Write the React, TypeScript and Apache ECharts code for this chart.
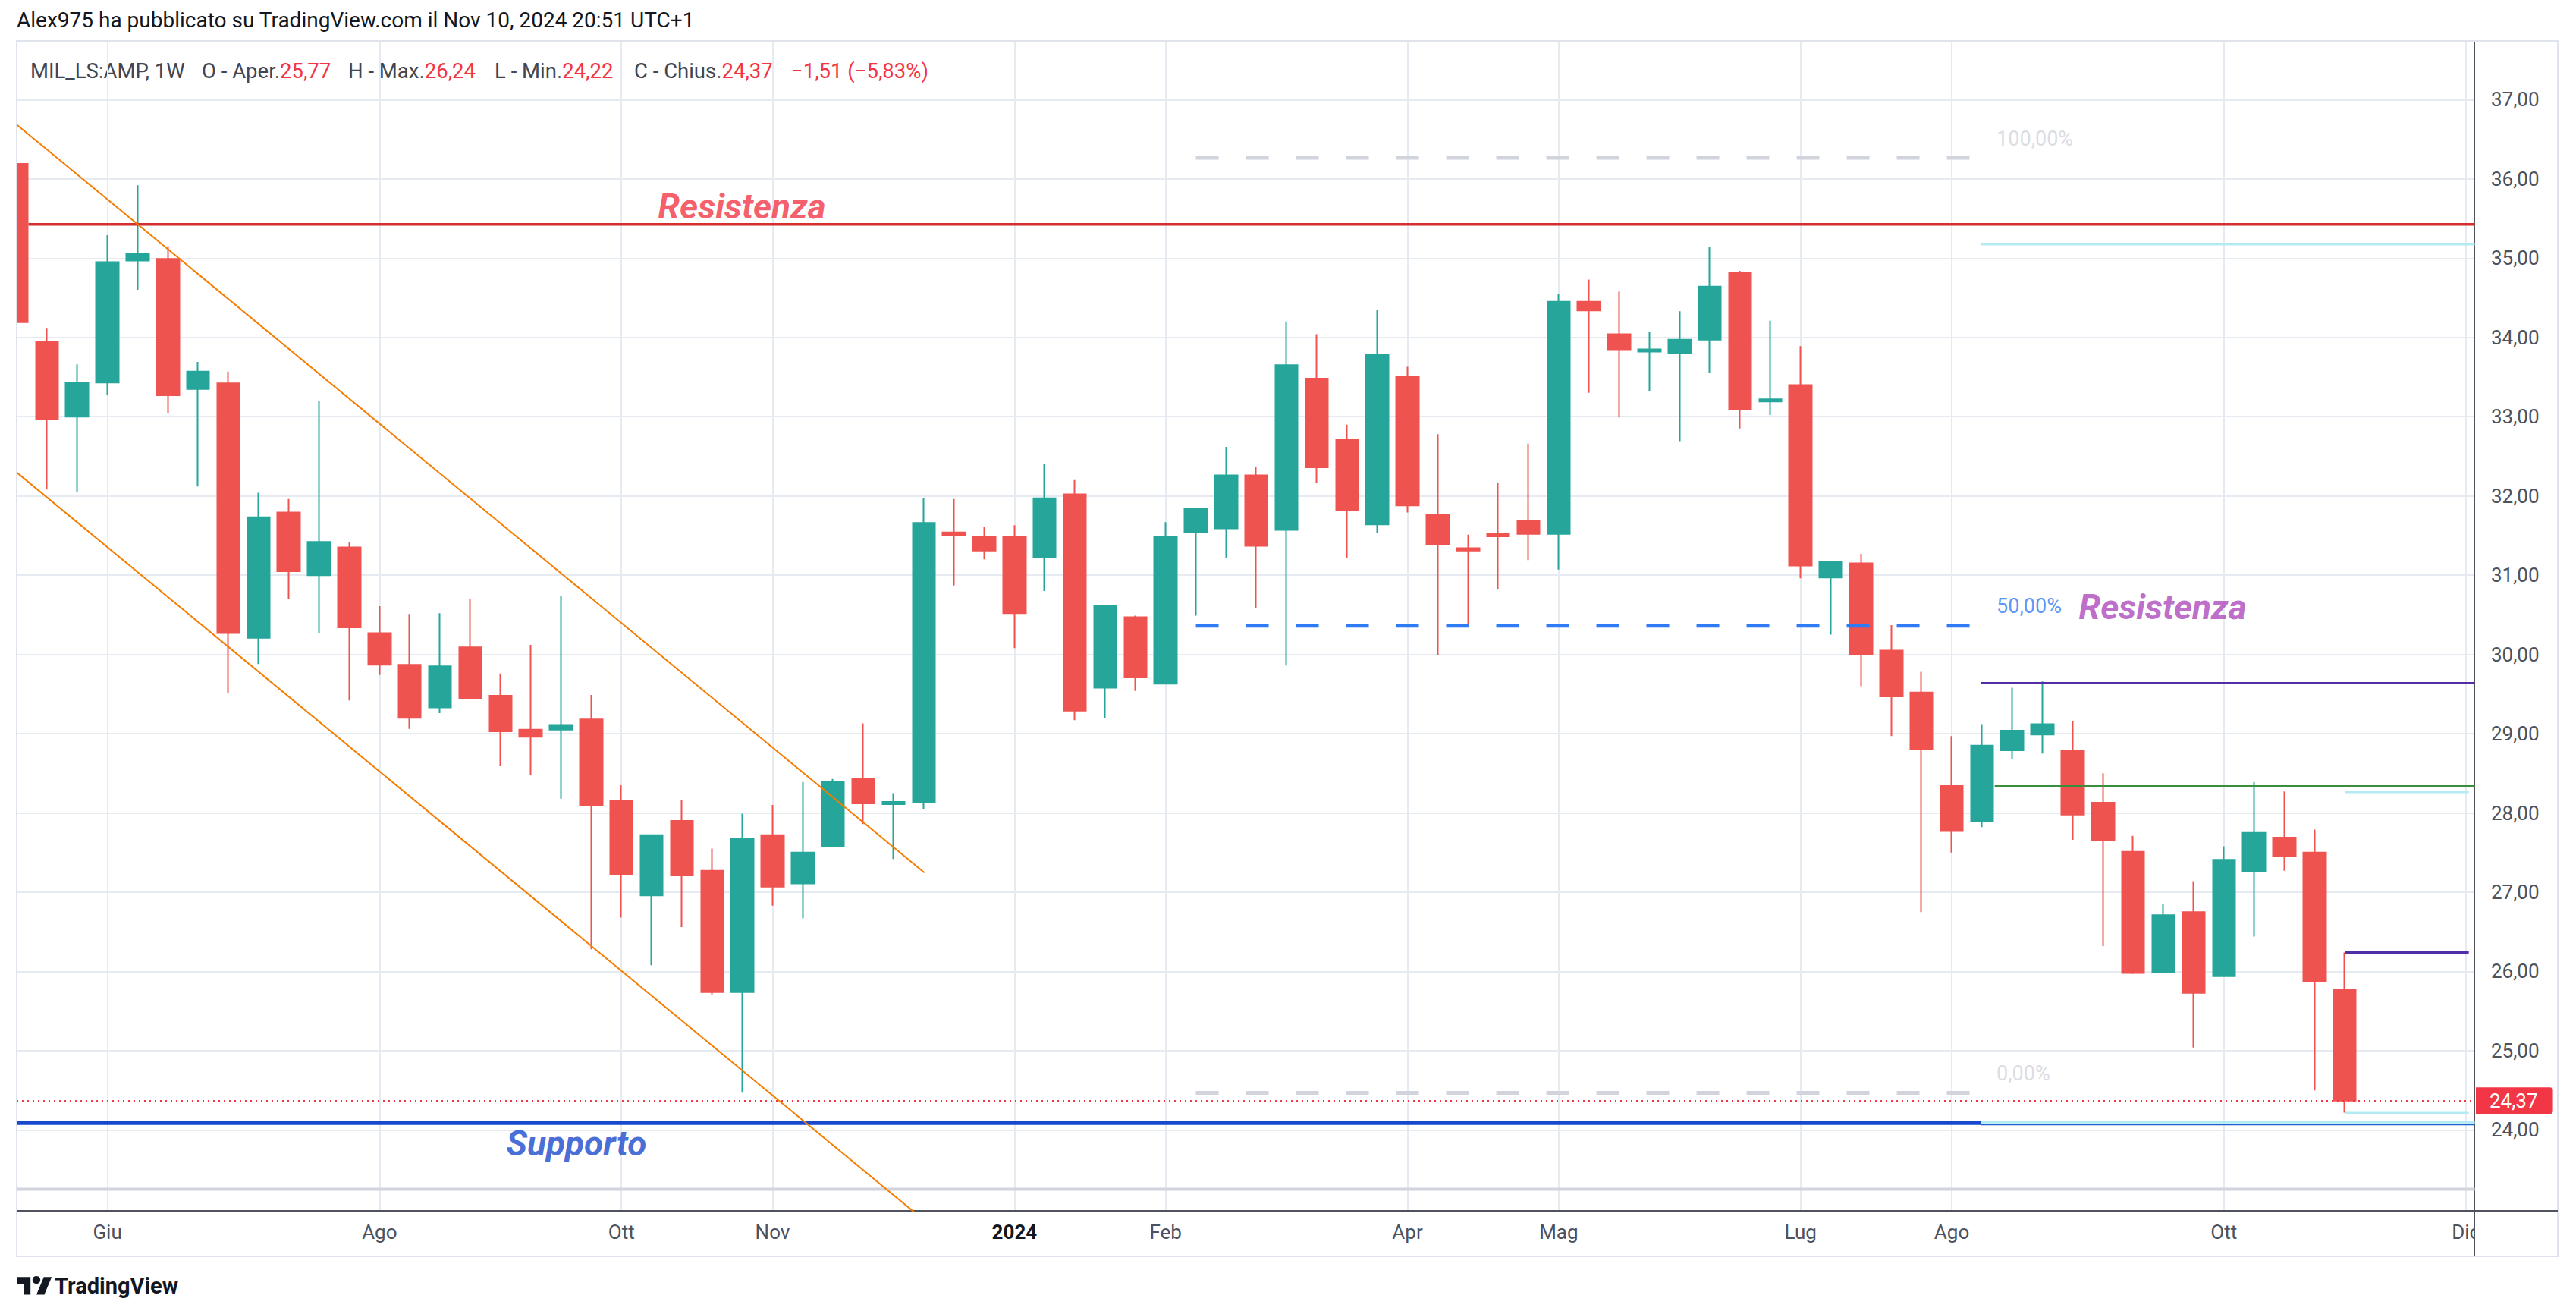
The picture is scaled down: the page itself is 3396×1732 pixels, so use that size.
import React, { useEffect, useRef } from 'react';
import * as echarts from 'echarts';

// Weekly candles: index 0 = week of 15 May 2023 ... index 77 = week of 4 Nov 2024
const opens = [36.19, 33.95, 33.0, 33.43, 34.97, 34.99, 33.35, 33.42, 30.21, 31.79, 31.0, 31.35, 30.27, 29.87, 29.33, 30.09, 29.48, 29.05, 29.05, 29.18, 28.15, 26.96, 27.9, 27.27, 25.74, 27.72, 27.11, 27.58, 28.43, 28.11, 28.14, 31.54, 31.48, 31.49, 31.23, 32.02, 29.58, 30.47, 29.63, 31.54, 31.59, 32.26, 31.57, 33.48, 32.71, 31.64, 33.5, 31.76, 31.34, 31.52, 31.68, 31.52, 34.45, 34.04, 33.82, 33.8, 33.97, 34.81, 33.19, 33.4, 30.97, 31.15, 30.05, 29.52, 28.34, 27.9, 28.79, 28.99, 28.78, 28.13, 27.51, 25.99, 26.75, 25.94, 27.26, 27.69, 27.5, 25.77];
const closes = [34.19, 32.97, 33.43, 34.95, 35.06, 33.27, 33.57, 30.27, 31.73, 31.05, 31.42, 30.34, 29.87, 29.2, 29.85, 29.45, 29.03, 28.96, 29.11, 28.1, 27.23, 27.72, 27.21, 25.74, 27.67, 27.07, 27.5, 28.39, 28.12, 28.14, 31.66, 31.5, 31.31, 30.52, 31.97, 29.29, 30.61, 29.71, 31.48, 31.84, 32.26, 31.37, 33.65, 32.36, 31.82, 33.78, 31.88, 31.39, 31.31, 31.49, 31.52, 34.45, 34.34, 33.85, 33.85, 33.97, 34.64, 33.09, 33.22, 31.12, 31.17, 30.0, 29.47, 28.81, 27.77, 28.85, 29.04, 29.12, 27.98, 27.66, 25.98, 26.71, 25.73, 27.41, 27.75, 27.45, 25.88, 24.37];
const lows = [34.15, 32.08, 32.05, 33.27, 34.6, 33.04, 32.12, 29.51, 29.88, 30.7, 30.27, 29.42, 29.74, 29.06, 29.26, 29.44, 28.59, 28.48, 28.18, 26.28, 26.68, 26.08, 26.56, 25.71, 24.47, 26.83, 26.67, 27.58, 27.86, 27.42, 28.05, 30.87, 31.2, 30.08, 30.8, 29.17, 29.2, 29.54, 29.62, 30.49, 31.22, 30.59, 29.86, 32.17, 31.22, 31.53, 31.79, 29.99, 30.35, 30.82, 31.19, 31.07, 33.3, 32.99, 33.32, 32.69, 33.55, 32.85, 33.02, 30.96, 30.25, 29.6, 28.97, 26.75, 27.5, 27.82, 28.68, 28.75, 27.66, 26.32, 25.97, 25.98, 25.04, 25.93, 26.44, 27.27, 24.5, 24.22];
const highs = [36.25, 34.12, 33.66, 35.29, 35.92, 35.15, 33.69, 33.57, 32.04, 31.96, 33.2, 31.42, 30.61, 30.51, 30.52, 30.7, 29.76, 30.12, 30.74, 29.49, 28.35, 27.73, 28.16, 27.55, 27.99, 28.1, 28.39, 28.43, 29.13, 28.25, 31.97, 31.96, 31.61, 31.63, 32.4, 32.2, 30.62, 30.49, 31.67, 31.85, 32.62, 32.37, 34.2, 34.04, 32.9, 34.35, 33.63, 32.78, 31.51, 32.17, 32.66, 34.55, 34.73, 34.58, 34.07, 34.33, 35.14, 34.84, 34.21, 33.89, 31.18, 31.27, 30.37, 29.78, 28.97, 29.12, 29.58, 29.66, 29.16, 28.5, 27.71, 26.85, 27.14, 27.58, 28.39, 28.27, 27.79, 26.24];

// time axis (week indices of the labelled month starts)
const monthTickIdx = [3, 12, 20, 25, 33, 38, 46, 51, 59, 64, 73, 81];
const monthTickLabels = ['Giu', 'Ago', 'Ott', 'Nov', '2024', 'Feb', 'Apr', 'Mag', 'Lug', 'Ago', 'Ott', 'Dic'];
const priceTicks = [24, 25, 26, 27, 28, 29, 30, 31, 32, 33, 34, 35, 36, 37];

// header legend: [label, value]
const legendNames = ['MIL_LS:AMP, 1W', 'O - Aper.', 'H - Max.', 'L - Min.', 'C - Chius.', ''];
const legendValues = ['', '25,77', '26,24', '24,22', '24,37', '\u22121,51 (\u22125,83%)'];
const legendX = [40, 266, 459, 652, 836, 1043];

// drawn levels (prices) and spans (week indices)
const resistanceLevel = 35.425;
const resistanceSpan = [0.39, 81.3];
const supportLevel = 24.088;
const supportSpan = [-1, 64.96];
const supportRayLevel = 24.07;
const lowerGrayLevel = 23.253;
const channelUpper = [[-1, 36.999], [30.02, 27.247]];
const channelLower = [[-1, 32.611], [31, 22.55]];
const fibLevels = [36.265, 30.363, 24.469];
const fibLabels = ['100,00%', '50,00%', '0,00%'];
const fibSpan = [39.0, 64.6];
const fibLabelX = 65.47;
const purpleLevel = 29.637;
const greenLevel = 28.336;
const cyanLevels = [35.177, 24.1];
const rightSpan = [64.96, 81.3];
const greenSpan = [65.42, 81.3];
const shortSpan = [77.0, 81.1];
const shortCyanLevels = [28.265, 24.212];
const shortPurpleLevel = 26.24;
const lastClose = 24.37;

const textNotes = [
  { text: 'Resistenza', x: 21.2, y: 35.657, kind: 'red' },
  { text: 'Supporto', x: 16.18, y: 23.83, kind: 'blue' },
  { text: 'Resistenza', x: 68.19, y: 30.6, kind: 'purple' },
];

const tvLogoPath = 'M14 22H7V11H0V4h14v18zM28 22h-8l7.5-18h8L28 22z';
echarts.graphic.registerShape('tvlogo', echarts.graphic.extendPath(tvLogoPath, {}));

const FONT = 'Roboto';
const UP = '#26a69a';
const DOWN = '#ef5350';

function seg(x0: number, x1: number, v: number) {
  return [[x0, v], [x1, v]];
}

function lineSeries(data: number[][], color: string, width: number, type: any = 'solid', z = 3) {
  return {
    type: 'line',
    data,
    showSymbol: false,
    symbol: 'none',
    silent: true,
    clip: true,
    z,
    lineStyle: { color, width, type, cap: 'butt' },
  };
}

export default function App() {
  const ref = useRef<HTMLDivElement>(null);

  useEffect(() => {
    if (!ref.current) return;
    const chart = echarts.init(ref.current, null, { renderer: 'svg' });

    const candleData = opens.map((o, i) => [i, o, closes[i], lows[i], highs[i]]);

    const noteStyle: any = {
      red: { color: '#f23645' },
      blue: { color: '#1848cc' },
      purple: { color: '#ab47bc' },
    };

    const series: any[] = [
      {
        type: 'candlestick',
        data: candleData,
        encode: { x: 0, y: [1, 2, 3, 4] },
        barWidth: 30,
        clip: true,
        z: 2,
        itemStyle: {
          color: UP,
          color0: DOWN,
          borderColor: UP,
          borderColor0: DOWN,
          borderColorDoji: DOWN,
          borderWidth: 2,
        },
        markLine: {
          silent: true,
          symbol: ['none', 'none'],
          data: [{ yAxis: lastClose }],
          lineStyle: { color: '#f23645', type: [2, 5], width: 2 },
          label: {
            show: true,
            position: 'end',
            distance: 2,
            formatter: () => lastClose.toFixed(2).replace('.', ','),
            backgroundColor: '#f23645',
            color: '#ffffff',
            fontSize: 26,
            fontFamily: FONT,
            padding: [5, 20, 4, 18],
            borderRadius: [0, 4, 4, 0],
          },
        },
      },
      lineSeries(seg(-1, 81.3, lowerGrayLevel), '#d1d4dc', 4),
      lineSeries(seg(resistanceSpan[0], resistanceSpan[1], resistanceLevel), '#d32f2f', 3.5),
      lineSeries(seg(supportSpan[0], supportSpan[1], supportLevel), '#1848cc', 5),
      lineSeries(seg(rightSpan[0], rightSpan[1], supportRayLevel), '#1e5fd0', 2),
      lineSeries(seg(rightSpan[0], rightSpan[1], cyanLevels[0]), '#b2ebf2', 3.5),
      lineSeries(seg(rightSpan[0], rightSpan[1], cyanLevels[1]), '#b2ebf2', 3.5),
      lineSeries(seg(rightSpan[0], rightSpan[1], purpleLevel), '#512da8', 3),
      lineSeries(seg(greenSpan[0], greenSpan[1], greenLevel), '#388e3c', 3),
      lineSeries(seg(shortSpan[0], shortSpan[1], shortCyanLevels[0]), '#b2ebf2', 3.5),
      lineSeries(seg(shortSpan[0], shortSpan[1], shortCyanLevels[1]), '#b2ebf2', 3.5),
      lineSeries(seg(shortSpan[0], shortSpan[1], shortPurpleLevel), '#512da8', 3),
      lineSeries(channelUpper, '#f57c00', 2),
      lineSeries(channelLower, '#f57c00', 2),
      lineSeries(seg(fibSpan[0], fibSpan[1], fibLevels[0]), '#d1d4dc', 5, [30, 36]),
      lineSeries(seg(fibSpan[0], fibSpan[1], fibLevels[1]), '#2f7bf5', 5, [30, 36]),
      lineSeries(seg(fibSpan[0], fibSpan[1], fibLevels[2]), '#d1d4dc', 5, [30, 36]),
      {
        type: 'scatter',
        silent: true,
        z: 6,
        symbolSize: 1,
        itemStyle: { color: 'rgba(0,0,0,0)' },
        data: [
          ...textNotes.map((n) => ({
            value: [n.x, n.y],
            label: {
              show: true,
              position: 'right',
              distance: 0,
              formatter: n.text,
              fontFamily: FONT,
              fontSize: 46,
              fontWeight: 'bold',
              fontStyle: 'italic',
              color: noteStyle[n.kind].color,
            },
          })),
          ...fibLevels.map((lv, i) => ({
            value: [fibLabelX, lv + 0.245],
            label: {
              show: true,
              position: 'right',
              distance: 0,
              formatter: fibLabels[i],
              fontFamily: FONT,
              fontSize: 27,
              color: i === 1 ? '#2f7bf5' : '#d1d4dc',
            },
          })),
        ],
      },
    ];

    const legendTexts = legendNames.map((name, i) => ({
      type: 'text',
      x: legendX[i],
      y: 93,
      style: {
        text: (name ? `{g|${name}}` : '') + (legendValues[i] ? `{r|${legendValues[i]}}` : ''),
        fontFamily: FONT,
        fontSize: 27.5,
        verticalAlign: 'middle',
        rich: {
          g: { fill: '#434651', fontSize: 27.5, fontFamily: FONT },
          r: { fill: '#f23645', fontSize: 27.5, fontFamily: FONT },
        },
      },
    }));

    chart.setOption({
      animation: false,
      backgroundColor: '#ffffff',
      grid: { left: 22, top: 54, width: 3240, height: 1542, containLabel: false },
      xAxis: {
        type: 'value',
        min: 0,
        max: 81.285,
        axisLine: { show: true, onZero: false, lineStyle: { color: '#50535e', width: 2 } },
        axisTick: { show: false, customValues: monthTickIdx },
        axisLabel: {
          customValues: monthTickIdx,
          margin: 15,
          fontSize: 26,
          fontFamily: FONT,
          color: '#4c525e',
          formatter: (v: number) => {
            const i = monthTickIdx.indexOf(Math.round(v));
            const s = i >= 0 ? monthTickLabels[i] : '';
            return s === '2024' ? '{b|2024}' : s;
          },
          rich: { b: { fontWeight: 'bold', fontSize: 26, fontFamily: FONT, color: '#131722' } },
        },
        splitLine: { show: true, lineStyle: { color: '#e6ebf1', width: 2 } },
      },
      yAxis: {
        type: 'value',
        position: 'right',
        min: 22.98,
        max: 37.74,
        axisLine: { show: true, onZero: false, lineStyle: { color: '#50535e', width: 2 } },
        axisTick: { show: false, customValues: priceTicks },
        axisLabel: {
          customValues: priceTicks,
          margin: 22,
          fontSize: 26,
          fontFamily: FONT,
          color: '#4c525e',
          formatter: (v: number) => v.toFixed(2).replace('.', ','),
        },
        splitLine: { show: true, lineStyle: { color: '#e6ebf1', width: 2 } },
      },
      series,
      graphic: [
        {
          type: 'rect',
          z: 100,
          silent: true,
          shape: { x: 0, y: 40, width: 21, height: 1630 },
          style: { fill: '#ffffff' },
        },
        {
          type: 'rect',
          z: 101,
          silent: true,
          shape: { x: 22, y: 54, width: 3350, height: 1602 },
          style: { fill: 'none', stroke: '#e0e3eb', lineWidth: 2 },
        },
        {
          type: 'rect',
          z: 100,
          silent: true,
          shape: { x: 3263, y: 1598, width: 108, height: 56 },
          style: { fill: '#ffffff' },
        },
        {
          type: 'line',
          z: 102,
          silent: true,
          shape: { x1: 3262, y1: 1596, x2: 3262, y2: 1656 },
          style: { stroke: '#50535e', lineWidth: 2 },
        },
        {
          type: 'line',
          z: 102,
          silent: true,
          shape: { x1: 3262, y1: 1596, x2: 3372, y2: 1596 },
          style: { stroke: '#50535e', lineWidth: 2 },
        },
        {
          type: 'text',
          x: 22,
          y: 26,
          style: {
            text: 'Alex975 ha pubblicato su TradingView.com il Nov 10, 2024 20:51 UTC+1',
            fontFamily: FONT,
            fontSize: 28,
            fill: '#131722',
            verticalAlign: 'middle',
          },
        },
        ...legendTexts,
        {
          type: 'tvlogo',
          x: 22,
          y: 1678,
          scaleX: 1.3,
          scaleY: 1.3,
          silent: true,
          style: { fill: '#131722' },
        },
        {
          type: 'circle',
          silent: true,
          shape: { cx: 22 + 20 * 1.3, cy: 1678 + 7 * 1.3, r: 4 * 1.3 },
          style: { fill: '#131722' },
        },
        {
          type: 'text',
          x: 72,
          y: 1695,
          style: {
            text: 'TradingView',
            fontFamily: FONT,
            fontSize: 29,
            fontWeight: 'bold',
            fill: '#131722',
            verticalAlign: 'middle',
          },
        },
      ],
    });

    return () => chart.dispose();
  }, []);

  return (
    <div
      ref={ref}
      style={{ position: 'absolute', left: 0, top: 0, width: 3396, height: 1732, background: '#ffffff' }}
    />
  );
}
